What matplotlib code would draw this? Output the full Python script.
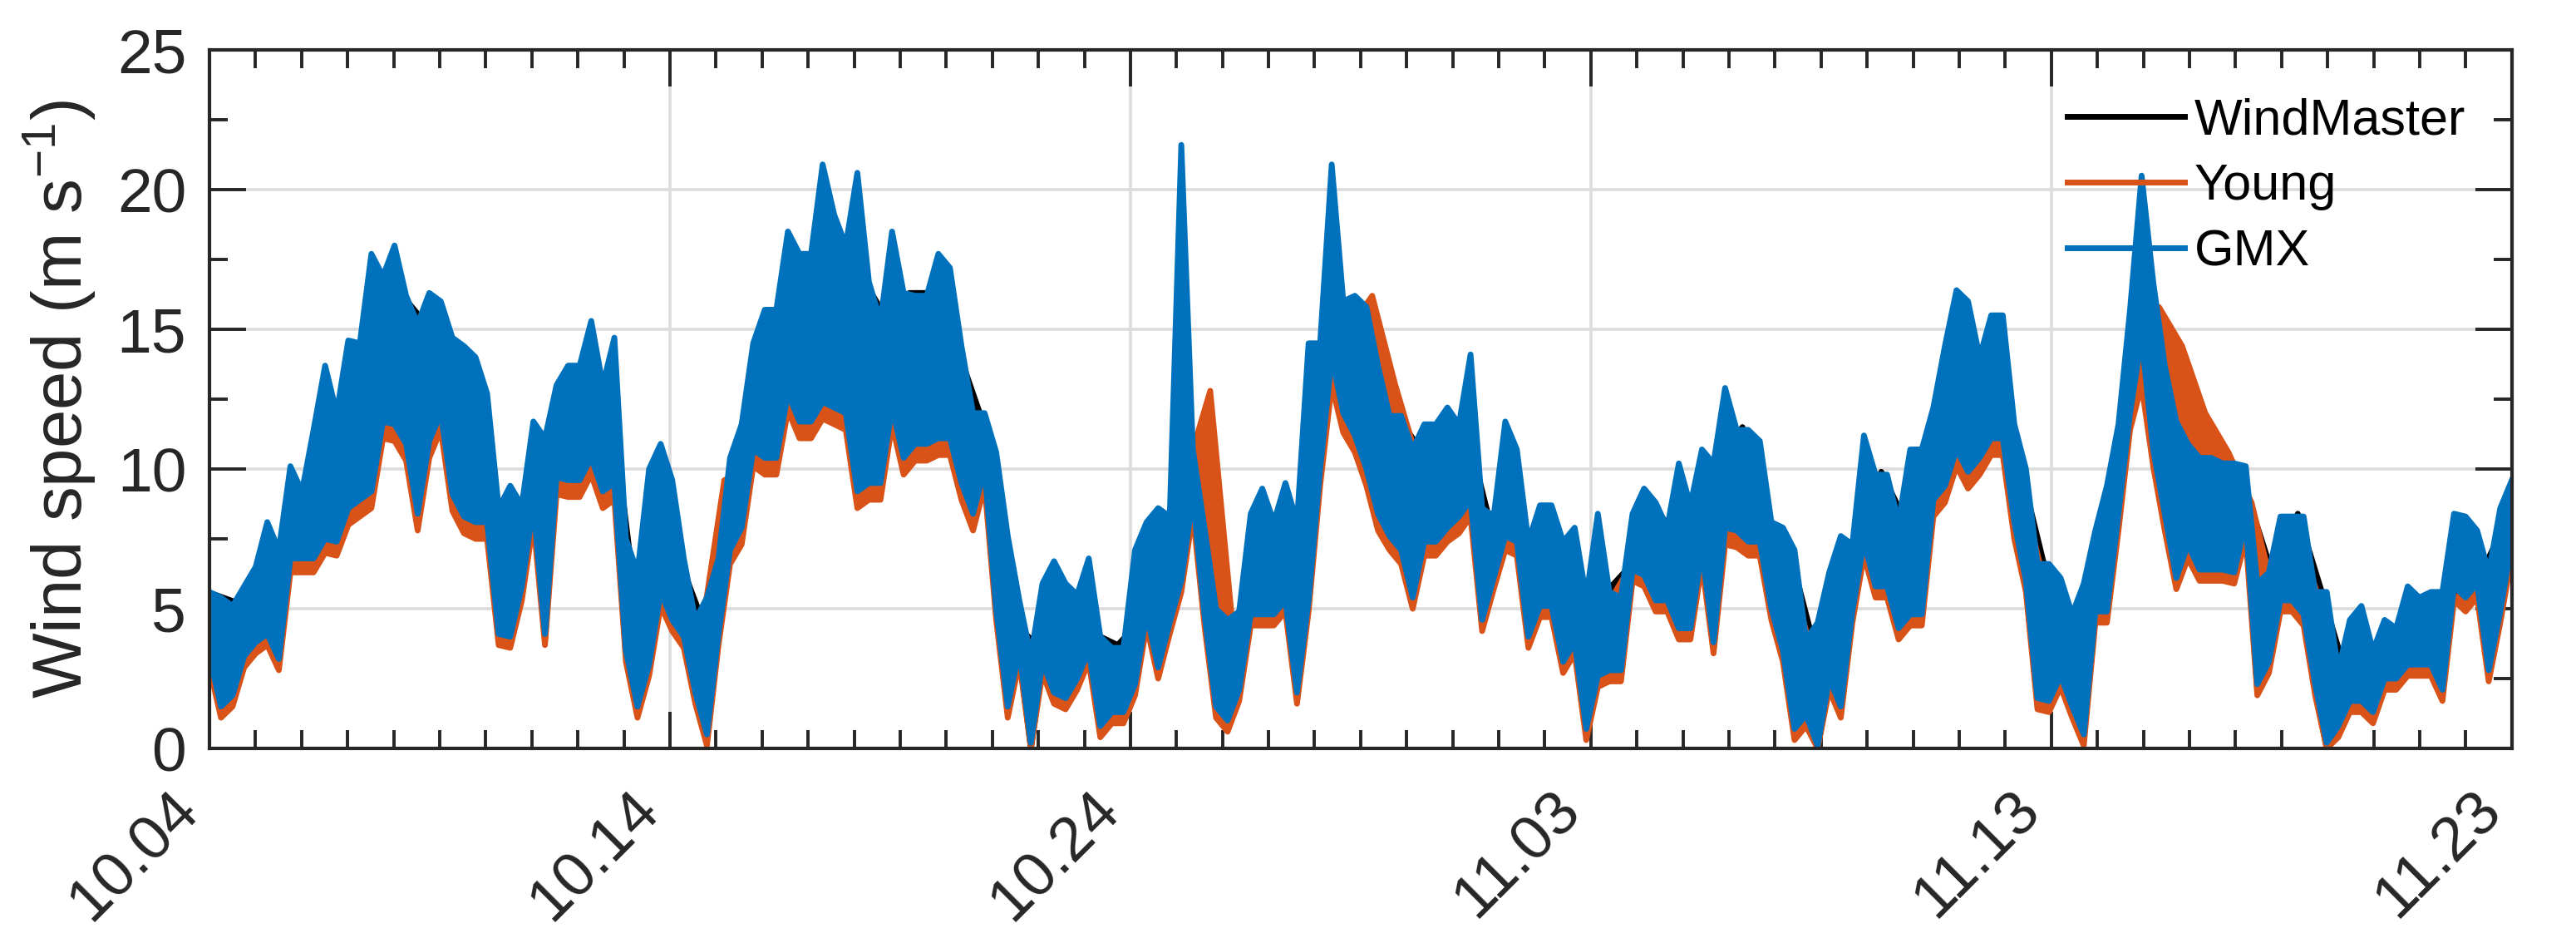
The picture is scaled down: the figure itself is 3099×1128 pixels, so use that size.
import numpy as np
import matplotlib
matplotlib.use("Agg")
import matplotlib.pyplot as plt
from matplotlib.ticker import MultipleLocator, FixedLocator, FixedFormatter

# --- data (m/s), days counted from 10.04 ---
# GMX: upper / lower extent of the trace in each quarter day
gmx_hi = [5.6, 5.4, 5.1, 5.8, 6.5, 8.1, 7.1, 10.1, 9.2, 11.4, 13.7, 12.0,
          14.6, 14.5, 17.7, 16.9, 18.0, 16.2, 15.2, 16.3, 16.0, 14.7, 14.4, 14.0,
          12.7, 8.6, 9.4, 8.7, 11.7, 11.1, 13.0, 13.7, 13.7, 15.3, 13.0, 14.7,
          7.5, 6.3, 10.0, 10.9, 9.6, 6.8, 4.6, 5.4, 6.8, 10.4, 11.6, 14.5,
          15.7, 15.7, 18.5, 17.7, 17.7, 20.9, 19.1, 18.0, 20.6, 16.7, 15.3, 18.5,
          16.3, 16.2, 16.2, 17.7, 17.2, 14.4, 12.0, 12.0, 10.6, 7.6, 5.3, 3.3,
          5.9, 6.7, 5.9, 5.5, 6.8, 4.0, 3.6, 3.6, 7.1, 8.1, 8.6, 8.3,
          21.6, 10.7, 7.9, 5.0, 4.6, 4.9, 8.4, 9.3, 8.1, 9.5, 8.1, 14.5,
          14.5, 20.9, 16.0, 16.2, 15.8, 13.7, 11.9, 11.9, 10.7, 11.6, 11.6, 12.2,
          11.6, 14.1, 8.6, 8.3, 11.7, 10.7, 7.4, 8.7, 8.7, 7.4, 7.9, 5.4,
          8.4, 5.6, 5.4, 8.4, 9.3, 8.8, 7.9, 10.2, 8.7, 10.7, 10.2, 12.9,
          11.4, 11.4, 11.0, 8.1, 7.9, 7.1, 3.9, 4.5, 6.3, 7.6, 7.3, 11.2,
          9.8, 9.8, 8.1, 10.7, 10.7, 12.2, 14.4, 16.4, 16.0, 14.0, 15.5, 15.5,
          11.6, 10.0, 6.6, 6.6, 6.1, 4.8, 5.9, 7.8, 9.4, 11.6, 15.7, 20.5,
          16.7, 13.7, 11.7, 10.9, 10.4, 10.4, 10.2, 10.2, 10.1, 5.9, 6.3, 8.3,
          8.3, 8.3, 5.6, 5.6, 2.8, 4.6, 5.1, 3.5, 4.6, 4.3, 5.8, 5.4,
          5.6, 5.6, 8.4, 8.3, 7.8, 6.3, 8.6, 9.6]
gmx_lo = [3.3, 1.5, 1.9, 3.3, 3.8, 4.1, 3.2, 6.8, 6.8, 6.8, 7.5, 7.4,
          8.6, 8.9, 9.2, 11.7, 11.6, 10.9, 8.4, 11.0, 12.0, 9.1, 8.3, 8.1,
          8.1, 4.1, 4.0, 5.8, 8.7, 4.1, 9.7, 9.6, 9.6, 10.4, 9.2, 9.5,
          3.5, 1.5, 3.0, 5.6, 4.6, 4.0, 2.0, 0.5, 4.1, 7.1, 7.9, 10.7,
          10.4, 10.4, 12.7, 11.7, 11.7, 12.4, 12.2, 12.0, 9.2, 9.5, 9.5, 12.2,
          10.4, 10.9, 10.9, 11.1, 11.1, 9.5, 8.4, 10.0, 5.0, 1.5, 3.5, 0.2,
          3.1, 2.0, 1.8, 2.5, 3.5, 0.8, 1.3, 1.3, 2.3, 4.8, 2.9, 4.5,
          6.0, 9.0, 4.8, 1.5, 1.0, 2.1, 4.8, 4.8, 4.8, 5.3, 2.0, 5.3,
          10.0, 14.0, 12.0, 11.2, 10.0, 8.4, 7.6, 7.1, 5.4, 7.4, 7.4, 7.9,
          8.3, 8.9, 4.6, 6.1, 7.6, 7.4, 4.0, 5.1, 5.1, 3.1, 3.8, 0.7,
          2.6, 2.8, 2.8, 6.4, 6.2, 5.3, 5.3, 4.3, 4.3, 7.1, 3.8, 7.9,
          7.8, 7.4, 7.4, 5.0, 3.5, 0.7, 1.2, 0.1, 2.5, 1.5, 4.9, 7.4,
          5.8, 5.8, 4.3, 4.8, 4.8, 8.9, 9.4, 10.7, 9.9, 10.4, 11.1, 11.1,
          8.1, 6.0, 1.8, 1.7, 2.6, 1.5, 0.5, 4.9, 4.9, 8.4, 12.0, 14.7,
          10.7, 8.4, 6.1, 7.3, 6.4, 6.4, 6.4, 6.3, 8.1, 2.3, 3.1, 5.3,
          5.3, 4.8, 2.3, 0.2, 0.8, 1.7, 1.7, 1.3, 2.5, 2.5, 3.0, 3.0,
          3.0, 2.1, 5.8, 5.4, 5.9, 2.8, 4.9, 7.4]

# Young: upper extent per half day, lower extent per quarter day
young_hi = [4.9, 4.6, 5.3, 6.4, 8.3, 10.9, 11.5, 14.0, 15.7, 13.7,
            14.2, 12.9, 8.1, 8.1, 8.2, 10.6, 12.3, 11.7, 5.8, 5.8,
            6.3, 4.1, 9.6, 9.9, 14.0, 15.2, 16.0, 16.5, 16.2, 14.8,
            14.7, 14.6, 13.9, 10.8, 7.1, 4.0, 2.8, 5.0, 3.5, 3.1,
            4.5, 7.6, 10.0, 12.8, 4.1, 4.8, 7.6, 7.6, 13.5, 15.0,
            16.2, 13.0, 10.2, 11.1, 11.1, 7.8, 7.8, 6.9, 6.9, 4.9,
            4.9, 6.3, 7.9, 7.4, 8.2, 9.7, 10.4, 7.6, 6.6, 3.4,
            4.0, 7.5, 8.8, 7.6, 10.2, 11.7, 13.5, 13.5, 9.5, 6.1,
            4.3, 5.0, 8.5, 14.5, 15.8, 14.4, 12.0, 10.6, 8.8, 5.4,
            7.8, 5.1, 2.3, 3.0, 3.0, 3.8, 4.9, 5.5, 5.8, 8.0]
young_lo = [2.9, 1.1, 1.5, 2.9, 3.4, 3.7, 2.8, 6.3, 6.3, 6.3, 7.0, 6.9,
            8.0, 8.3, 8.6, 11.1, 11.0, 10.3, 7.8, 10.4, 11.4, 8.5, 7.7, 7.5,
            7.5, 3.7, 3.6, 5.3, 8.1, 3.7, 9.1, 9.0, 9.0, 9.8, 8.6, 8.9,
            3.1, 1.1, 2.6, 5.1, 4.2, 3.6, 1.6, 0.1, 3.7, 6.6, 7.3, 10.1,
            9.8, 9.8, 12.1, 11.1, 11.1, 11.8, 11.6, 11.4, 8.6, 8.9, 8.9, 11.6,
            9.8, 10.3, 10.3, 10.5, 10.5, 8.9, 7.8, 9.4, 4.6, 1.1, 3.1, 0.0,
            2.7, 1.6, 1.4, 2.1, 3.1, 0.4, 0.9, 0.9, 1.9, 4.4, 2.5, 4.1,
            5.6, 8.4, 4.4, 1.1, 0.6, 1.7, 4.4, 4.4, 4.4, 4.9, 1.6, 4.9,
            9.4, 13.0, 11.3, 10.6, 9.4, 7.8, 7.1, 6.6, 5.0, 6.9, 6.9, 7.4,
            7.7, 8.3, 4.2, 5.7, 7.1, 6.9, 3.6, 4.7, 4.7, 2.7, 3.4, 0.3,
            2.2, 2.4, 2.4, 6.0, 5.8, 4.9, 4.9, 3.9, 3.9, 6.6, 3.4, 7.3,
            7.2, 6.9, 6.9, 4.6, 3.1, 0.3, 0.8, 0.0, 2.1, 1.1, 4.5, 6.9,
            5.4, 5.4, 3.9, 4.4, 4.4, 8.3, 8.8, 10.1, 9.3, 9.8, 10.5, 10.5,
            7.5, 5.6, 1.4, 1.3, 2.2, 1.1, 0.1, 4.5, 4.5, 7.8, 11.4, 13.0,
            10.1, 7.8, 5.7, 6.8, 6.0, 6.0, 6.0, 5.9, 7.5, 1.9, 2.7, 4.9,
            4.9, 4.4, 1.9, 0.0, 0.4, 1.3, 1.3, 0.9, 2.1, 2.1, 2.6, 2.6,
            2.6, 1.7, 5.3, 4.9, 5.4, 2.4, 4.5, 6.9]

# WindMaster: upper extent per half day, lower extent per quarter day
wm_hi = [5.5, 5.2, 5.9, 7.2, 9.3, 11.5, 12.1, 14.6, 16.3, 15.3,
         14.8, 14.1, 8.7, 8.7, 8.8, 11.2, 13.8, 13.1, 6.4, 6.4,
         6.9, 4.7, 7.0, 10.5, 14.6, 15.8, 17.8, 18.1, 16.8, 15.4,
         16.3, 16.3, 14.5, 12.1, 7.7, 4.1, 3.4, 5.6, 4.1, 3.7,
         4.6, 8.2, 9.0, 5.1, 4.7, 5.0, 8.2, 8.2, 14.6, 16.1,
         13.8, 12.0, 10.8, 11.7, 11.7, 8.4, 8.4, 7.5, 7.5, 5.5,
         5.5, 6.4, 8.5, 8.0, 8.8, 10.3, 11.5, 8.2, 7.2, 4.0,
         4.6, 7.6, 9.9, 8.2, 10.8, 12.3, 14.1, 14.1, 10.1, 6.7,
         4.9, 5.1, 8.6, 15.0, 13.8, 11.0, 10.5, 10.3, 8.6, 6.0,
         8.4, 5.7, 2.9, 3.6, 3.6, 4.4, 5.5, 5.7, 6.4, 8.1]
wm_lo = [3.1, 1.3, 1.7, 3.1, 3.6, 3.9, 3.0, 6.6, 6.6, 6.6, 7.3, 7.2,
         8.4, 8.7, 9.0, 11.5, 11.4, 10.7, 8.2, 10.8, 11.8, 8.9, 8.1, 7.9,
         7.9, 3.9, 3.8, 5.6, 8.5, 3.9, 9.5, 9.4, 9.4, 10.2, 9.0, 9.3,
         3.3, 1.3, 2.8, 5.4, 4.4, 3.8, 1.8, 0.3, 3.9, 6.9, 7.7, 10.5,
         10.2, 10.2, 12.5, 11.5, 11.5, 12.2, 12.0, 11.8, 9.0, 9.3, 9.3, 12.0,
         10.2, 10.7, 10.7, 10.9, 10.9, 9.3, 8.2, 9.8, 4.8, 1.3, 3.3, 0.0,
         2.9, 1.8, 1.6, 2.3, 3.3, 0.6, 1.1, 1.1, 2.1, 4.6, 2.7, 4.3,
         5.8, 8.8, 4.6, 1.3, 0.8, 1.9, 4.6, 4.6, 4.6, 5.1, 1.8, 5.1,
         9.8, 13.8, 11.8, 11.0, 9.8, 8.2, 7.4, 6.9, 5.2, 7.2, 7.2, 7.7,
         8.1, 8.7, 4.4, 5.9, 7.4, 7.2, 3.8, 4.9, 4.9, 2.9, 3.6, 0.5,
         2.4, 2.6, 2.6, 6.2, 6.0, 5.1, 5.1, 4.1, 4.1, 6.9, 3.6, 7.7,
         7.6, 7.2, 7.2, 4.8, 3.3, 0.5, 1.0, 0.0, 2.3, 1.3, 4.7, 7.2,
         5.6, 5.6, 4.1, 4.6, 4.6, 8.7, 9.2, 10.5, 9.7, 10.2, 10.9, 10.9,
         7.9, 5.8, 1.6, 1.5, 2.4, 1.3, 0.3, 4.7, 4.7, 8.2, 11.8, 14.5,
         10.5, 8.2, 5.9, 7.1, 6.2, 6.2, 6.2, 6.1, 7.9, 2.1, 2.9, 5.1,
         5.1, 4.6, 2.1, 0.0, 0.6, 1.5, 1.5, 1.1, 2.3, 2.3, 2.8, 2.8,
         2.8, 1.9, 5.6, 5.2, 5.7, 2.6, 4.7, 7.2]

n_days = 50
tick_days = [0, 10, 20, 30, 40, 50]
tick_labels = ['10.04', '10.14', '10.24', '11.03', '11.13', '11.23']
series_names = ['WindMaster', 'Young', 'GMX']
series_colors = ['#000000', '#D95319', '#0072BD']

# time of each reading (quarter-day and half-day steps)
t_q = np.linspace(0, n_days, len(gmx_hi))
t_h = (t_q[0::2] + t_q[1::2]) / 2

plt.rcParams['font.family'] = ['Liberation Sans', 'DejaVu Sans']
plt.rcParams['mathtext.fontset'] = 'custom'
plt.rcParams['mathtext.rm'] = 'Liberation Sans'

fig = plt.figure(figsize=(15.495, 5.64), dpi=200)
ax = fig.add_axes([0.0813, 0.2021, 0.8938, 0.7447])

txt = '#262626'
lw = 2.5
series = [(t_h, wm_hi, wm_lo), (t_h, young_hi, young_lo), (t_q, gmx_hi, gmx_lo)]
for z, ((t_top, hi, lo), name, col) in enumerate(zip(series, series_names, series_colors)):
    # the trace swings so fast it reads as a band between its extents
    ax.fill(np.concatenate([t_top, t_q[::-1]]), np.concatenate([hi, lo[::-1]]),
            color=col, lw=0, zorder=3 + z)
    ax.plot(t_top, hi, color=col, lw=lw, label=name, zorder=3 + z)
    ax.plot(t_q, lo, color=col, lw=lw, zorder=3 + z)

ax.set_xlim(0, n_days)
ax.set_ylim(0, 25)
ax.xaxis.set_major_locator(FixedLocator(tick_days))
ax.xaxis.set_major_formatter(FixedFormatter(tick_labels))
ax.xaxis.set_minor_locator(MultipleLocator(1))
ax.yaxis.set_major_locator(MultipleLocator(5))
ax.yaxis.set_minor_locator(MultipleLocator(2.5))

ax.grid(True, which='major', color='#dcdcdc', lw=1.3)
ax.set_axisbelow(True)

ax.tick_params(which='both', direction='in', top=True, right=True,
               color=txt, width=1.4, labelcolor=txt, labelsize=27)
ax.tick_params(which='major', length=15.8)
ax.tick_params(which='minor', length=7.9)
ax.tick_params(axis='y', pad=10)
ax.tick_params(axis='x', pad=14)
for lab in ax.get_xticklabels():
    lab.set_rotation(45)
    lab.set_ha('right')
    lab.set_va('top')

for s in ax.spines.values():
    s.set_linewidth(1.5)
    s.set_color(txt)
    s.set_zorder(10)

ax.set_ylabel(r'Wind speed (m s$\mathregular{^{-1}}$)', fontsize=30, color=txt, labelpad=8)

leg = ax.legend(loc='upper left', bbox_to_anchor=(0.807, 0.932), frameon=False,
                fontsize=22, handlelength=2.3, handletextpad=0.2, labelspacing=0.36,
                borderpad=0, borderaxespad=0)
leg.set_zorder(20)

fig.savefig('out.png', dpi=200)
